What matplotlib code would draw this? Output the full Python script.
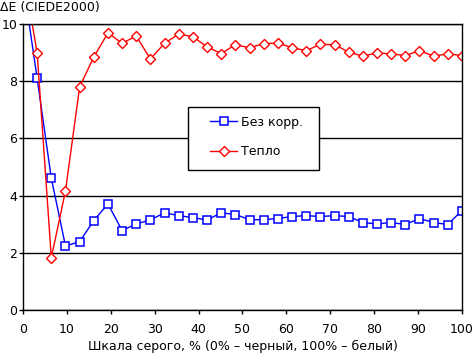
import matplotlib
matplotlib.use("Agg")
import matplotlib.pyplot as plt
from matplotlib.patches import Rectangle

plt.rcParams['font.family'] = ['DejaVu Sans']

# Шкала серого, % (32 точки)
gray_pct = [i * 100.0 / 31 for i in range(32)]

# ΔE без коррекции
de_raw = [11.5, 8.10, 4.61, 2.24, 2.39, 3.13, 3.71, 2.78, 3.01, 3.15,
          3.40, 3.30, 3.23, 3.15, 3.40, 3.34, 3.16, 3.16, 3.20, 3.27,
          3.30, 3.27, 3.30, 3.27, 3.06, 3.01, 3.06, 2.99, 3.20, 3.06,
          2.99, 3.48]

# ΔE профиль "Тепло"
de_warm = [11.9, 8.99, 1.83, 4.16, 7.80, 8.85, 9.69, 9.33, 9.58, 8.78,
           9.33, 9.65, 9.56, 9.20, 8.97, 9.28, 9.17, 9.32, 9.33, 9.18,
           9.07, 9.29, 9.28, 9.02, 8.88, 8.99, 8.96, 8.90, 9.07, 8.88,
           8.96, 8.90]

labels = ['Без корр.', 'Тепло']
x_ticks = list(range(0, 101, 10))
y_ticks = list(range(0, 11, 2))

fig = plt.figure(figsize=(4.72, 3.53), dpi=100)
ax = fig.add_axes([0.0487, 0.1218, 0.930, 0.810])

ax.plot(gray_pct, de_raw, color='#0000ff', lw=1, marker='s', ms=5.6,
        mfc='white', mec='#0000ff', mew=1.1, label=labels[0])
ax.plot(gray_pct, de_warm, color='#ff0000', lw=1, marker='D', ms=5.2,
        mfc='white', mec='#ff0000', mew=1.0, label=labels[1])

ax.set_xlim(0, 100)
ax.set_ylim(0, 10)
ax.set_xticks(x_ticks)
ax.set_yticks(y_ticks)
ax.yaxis.grid(True, color='black', lw=1)
ax.set_axisbelow(True)
for s in ax.spines.values():
    s.set_color('black')
    s.set_linewidth(1)
ax.tick_params(axis='both', labelsize=9, length=3, width=1, color='black')
ax.tick_params(axis='x', pad=6)
ax.tick_params(axis='y', pad=1)

ax.set_xlabel('Шкала серого, % (0% – черный, 100% – белый)', fontsize=9, labelpad=3)
fig.text(0.0, 0.997, 'ΔE (CIEDE2000)', fontsize=9, ha='left', va='top')

# рамка легенды
ax.add_patch(Rectangle((0.376, 0.49), 0.298, 0.22, transform=ax.transAxes,
                       facecolor='white', edgecolor='black', lw=1, zorder=4))
leg = ax.legend(loc='upper left', bbox_to_anchor=(0.426, 0.68), fontsize=9,
                frameon=False, borderpad=0, labelspacing=1.35, handlelength=2.2,
                handletextpad=0.3, borderaxespad=0)
leg.set_zorder(5)

plt.savefig('out.png', dpi=100)
